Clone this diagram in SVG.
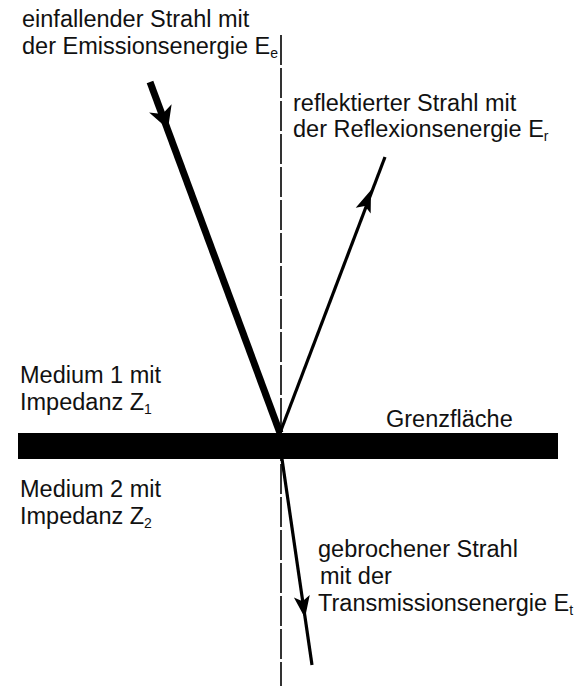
<svg xmlns="http://www.w3.org/2000/svg" width="575" height="686" viewBox="0 0 575 686">
<style>
text{font-family:"Liberation Sans",Arial,sans-serif;font-size:23.5px;fill:#111}
.sub{font-size:14px}
.ray{stroke:#000;fill:none;stroke-linecap:butt}
.head{fill:#000}
</style>
<defs>
<polygon id="headThick" points="0,0 -22,-12 -16,0 -22,12"/>
<polygon id="headThin" points="0,0 -22,-8 -17,0 -22,8"/>
</defs>
<rect width="575" height="686" fill="#fff"/>
<g id="normal">
<line x1="281" y1="35" x2="281" y2="686" stroke="#000" stroke-width="1.6" stroke-dasharray="30 3"/>
</g>
<g id="boundary">
<rect x="18" y="433" width="540" height="26" fill="#000"/>
</g>
<g id="connectors">
<line class="ray" x1="150" y1="82" x2="280" y2="433" stroke-width="7"/>
<use href="#headThick" class="head" transform="translate(168,129) rotate(69.7)"/>
<line class="ray" x1="280" y1="433" x2="385" y2="157" stroke-width="3.2"/>
<use href="#headThin" class="head" transform="translate(371,190) rotate(-69.2)"/>
<line class="ray" x1="282" y1="459" x2="312" y2="665" stroke-width="3.2"/>
<use href="#headThin" class="head" transform="translate(305,618) rotate(81.7)"/>
</g>
<g id="label-incident">
<text x="22" y="27">einfallender Strahl mit</text>
<text x="22" y="54">der Emissionsenergie E<tspan class="sub" dy="4">e</tspan></text>
</g>
<g id="label-reflected">
<text x="293" y="111">reflektierter Strahl mit</text>
<text x="293" y="137">der Reflexionsenergie E<tspan class="sub" dy="4">r</tspan></text>
</g>
<g id="label-medium1">
<text x="20" y="383">Medium 1 mit</text>
<text x="20" y="410">Impedanz Z<tspan class="sub" dy="4">1</tspan></text>
</g>
<g id="label-grenz">
<text x="386" y="427">Grenzfläche</text>
</g>
<g id="label-medium2">
<text x="20" y="497">Medium 2 mit</text>
<text x="20" y="524">Impedanz Z<tspan class="sub" dy="4">2</tspan></text>
</g>
<g id="label-refracted">
<text x="318" y="557">gebrochener Strahl</text>
<text x="320" y="584">mit der</text>
<text x="318" y="611">Transmissionsenergie E<tspan class="sub" dy="4">t</tspan></text>
</g>
</svg>
